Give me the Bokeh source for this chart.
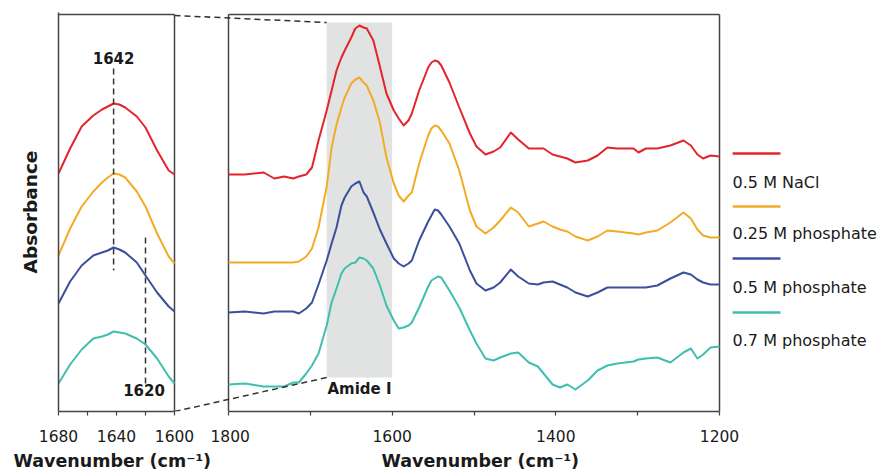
from bokeh.plotting import figure
from bokeh.models import (Range1d, FixedTicker, LinearAxis, BoxAnnotation, Label, Title)
from bokeh.core.properties import value
from bokeh.layouts import row
from bokeh.embed import file_html
from bokeh.resources import INLINE

# ---------------- data ----------------
series_names = ["0.5 M NaCl", "0.25 M phosphate", "0.5 M phosphate", "0.7 M phosphate"]
colors = ["#e4242b", "#f3ab26", "#3b4f9e", "#3fbfaf"]

# full spectra (right panel), stacked absorbance (a.u.)
wn_full = [1800, 1780, 1757, 1744, 1732, 1721, 1714, 1705, 1698, 1690,
           1680, 1674, 1668, 1662, 1658, 1650, 1645, 1640, 1635, 1631,
           1623, 1615, 1607, 1598, 1592, 1586, 1580, 1576, 1567, 1556,
           1552, 1548, 1544, 1540, 1530, 1518, 1505, 1497, 1486, 1476,
           1468, 1455, 1446, 1433, 1422, 1415, 1404, 1395, 1386, 1376,
           1361, 1349, 1337, 1325, 1305, 1299, 1290, 1276, 1260, 1244,
           1235, 1227, 1220, 1211, 1200]
nacl_full = [2.37, 2.37, 2.39, 2.33, 2.35, 2.33, 2.35, 2.37, 2.44, 2.71,
             3.01, 3.21, 3.41, 3.54, 3.61, 3.74, 3.83, 3.86, 3.84, 3.83,
             3.71, 3.45, 3.18, 3.01, 2.93, 2.86, 2.91, 2.98, 3.21, 3.44,
             3.49, 3.51, 3.50, 3.46, 3.29, 3.04, 2.78, 2.65, 2.57, 2.60,
             2.64, 2.79, 2.72, 2.63, 2.63, 2.63, 2.57, 2.55, 2.53, 2.49,
             2.51, 2.56, 2.64, 2.63, 2.63, 2.59, 2.63, 2.63, 2.66, 2.71,
             2.66, 2.57, 2.53, 2.56, 2.55]
p025_full = [1.49, 1.49, 1.49, 1.49, 1.49, 1.49, 1.50, 1.55, 1.63, 1.84,
             2.25, 2.64, 2.87, 3.04, 3.14, 3.28, 3.32, 3.34, 3.29, 3.26,
             3.11, 2.89, 2.54, 2.28, 2.16, 2.10, 2.16, 2.19, 2.48, 2.76,
             2.83, 2.86, 2.85, 2.81, 2.68, 2.41, 2.01, 1.85, 1.78, 1.84,
             1.91, 2.04, 1.99, 1.85, 1.88, 1.90, 1.85, 1.82, 1.80, 1.75,
             1.71, 1.75, 1.81, 1.80, 1.78, 1.77, 1.79, 1.81, 1.89, 1.99,
             1.93, 1.82, 1.76, 1.74, 1.74]
p050_full = [0.99, 1.00, 0.98, 1.00, 1.00, 1.00, 0.98, 1.03, 1.09, 1.27,
             1.51, 1.68, 1.84, 2.06, 2.14, 2.25, 2.28, 2.30, 2.19, 2.15,
             1.99, 1.82, 1.68, 1.53, 1.48, 1.45, 1.48, 1.51, 1.71, 1.90,
             1.96, 2.02, 2.01, 1.97, 1.85, 1.68, 1.41, 1.28, 1.21, 1.24,
             1.29, 1.42, 1.35, 1.28, 1.27, 1.29, 1.30, 1.27, 1.24, 1.19,
             1.15, 1.19, 1.24, 1.24, 1.24, 1.24, 1.24, 1.26, 1.33, 1.39,
             1.37, 1.32, 1.29, 1.27, 1.27]
p070_full = [0.27, 0.28, 0.25, 0.25, 0.25, 0.29, 0.29, 0.38, 0.46, 0.58,
             0.86, 1.09, 1.23, 1.38, 1.43, 1.48, 1.49, 1.54, 1.53, 1.51,
             1.43, 1.26, 1.06, 0.91, 0.83, 0.84, 0.86, 0.89, 1.04, 1.25,
             1.31, 1.33, 1.35, 1.34, 1.21, 1.04, 0.81, 0.68, 0.53, 0.51,
             0.54, 0.58, 0.59, 0.49, 0.45, 0.38, 0.27, 0.24, 0.27, 0.22,
             0.31, 0.41, 0.46, 0.48, 0.50, 0.52, 0.53, 0.54, 0.49, 0.59,
             0.63, 0.53, 0.57, 0.64, 0.65]

# amide I region (left panel)
wn_amide = [1680, 1672, 1664, 1656, 1650, 1646, 1642, 1638, 1634, 1626, 1620, 1612, 1604, 1600]
nacl_amide = [2.38, 2.63, 2.85, 2.96, 3.02, 3.05, 3.08, 3.07, 3.04, 2.95, 2.84, 2.61, 2.41, 2.37]
p025_amide = [1.56, 1.83, 2.05, 2.20, 2.29, 2.34, 2.38, 2.37, 2.34, 2.20, 2.05, 1.78, 1.55, 1.48]
p050_amide = [1.08, 1.30, 1.46, 1.56, 1.59, 1.61, 1.64, 1.62, 1.59, 1.49, 1.36, 1.19, 1.05, 1.00]
p070_amide = [0.28, 0.47, 0.62, 0.73, 0.75, 0.77, 0.80, 0.79, 0.78, 0.73, 0.67, 0.53, 0.35, 0.28]

full_series = [nacl_full, p025_full, p050_full, p070_full]
amide_series = [nacl_amide, p025_amide, p050_amide, p070_amide]

peak_main = 1642
peak_shoulder = 1620
amide_band = (1680, 1600)

left_ticks = [1680, 1640, 1600]
left_minor = [1660, 1620]
right_ticks = [1800, 1600, 1400, 1200]
right_minor = [1700, 1500, 1300]

# ---------------- style / geometry ----------------
FONT = "DejaVu Sans"
FRAME = "#444444"
DASH = "#333333"
TXT = "#1a1a1a"
H = 475
TOP, BOTTOM = 12, 64
Y0, Y1 = 0.0, 3.99      # visible y span of both frames
BOX_TOP = 3.97          # top edge of the drawn panel boxes
XLAB = "Wavenumber (cm\u207b\u00b9)"


def style_xaxis(ax, ticks, minor, bounds):
    ax.ticker = FixedTicker(ticks=ticks, minor_ticks=minor)
    ax.bounds = bounds
    ax.axis_line_color = FRAME
    ax.axis_line_width = 1.5
    ax.major_tick_line_color = FRAME
    ax.minor_tick_line_color = FRAME
    ax.major_tick_line_width = 1.2
    ax.minor_tick_line_width = 1.2
    ax.major_tick_out = 4
    ax.major_tick_in = 0
    ax.minor_tick_out = 4
    ax.minor_tick_in = 0
    ax.major_label_text_font = FONT
    ax.major_label_text_font_size = "15.5px"
    ax.major_label_text_color = TXT
    ax.major_label_standoff = 14


def xtitle(offset):
    return Title(text=XLAB, align="left", offset=offset, text_font=FONT,
                 text_font_style="bold", text_font_size="17.5px", text_color=TXT,
                 standoff=8)


def draw_lines(p, xs, series):
    for ys, c in zip(series, colors):
        p.line(xs, ys, line_color=c, line_width=2, line_join="round")


# ---------------- left panel ----------------
# frame spans x = 58..210 px; 1680 -> 58 px, 1600 -> 174 px
left = figure(width=210, height=H, output_backend="svg", toolbar_location=None,
              x_range=Range1d(1680, 1575.17), y_range=Range1d(Y0, Y1),
              min_border_left=58, min_border_right=0, min_border_top=TOP,
              min_border_bottom=BOTTOM, x_axis_location=None, y_axis_location=None)
left.grid.visible = False
left.outline_line_color = None
lx = LinearAxis()
style_xaxis(lx, left_ticks, left_minor, (1600, 1680))
left.add_layout(lx, "below")
left.add_layout(xtitle(-45), "below")
ly = LinearAxis(ticker=FixedTicker(ticks=[]))
ly.axis_line_color = FRAME
ly.axis_line_width = 1.5
ly.major_tick_out = 0
ly.major_tick_in = 0
ly.minor_tick_out = 0
ly.minor_tick_in = 0
ly.major_label_text_font_size = "0px"
ly.axis_label = "Absorbance"
ly.axis_label_text_font = FONT
ly.axis_label_text_font_style = "bold"
ly.axis_label_text_font_size = "18.5px"
ly.axis_label_text_color = TXT
ly.axis_label_standoff = 18
left.add_layout(ly, "left")

# box: top and right edges
left.segment(x0=[amide_band[0], amide_band[1]], y0=[BOX_TOP, Y0],
             x1=[amide_band[1], amide_band[1]], y1=[BOX_TOP, BOX_TOP],
             line_color=FRAME, line_width=1.5)

draw_lines(left, wn_amide, amide_series)

left.segment(x0=[peak_main], y0=[3.43], x1=[peak_main], y1=[1.41],
             line_color=DASH, line_width=1.5, line_dash="6 4")
left.segment(x0=[peak_shoulder], y0=[1.74], x1=[peak_shoulder], y1=[0.28],
             line_color=DASH, line_width=1.5, line_dash="6 4")
left.add_layout(Label(x=peak_main, y=3.535, text=str(peak_main), text_align="center",
                      text_baseline="middle", text_font=FONT, text_font_style="bold",
                      text_font_size="15px", text_color=TXT))
left.add_layout(Label(x=1621, y=0.22, text=str(peak_shoulder), text_align="center",
                      text_baseline="middle", text_font=FONT, text_font_style="bold",
                      text_font_size="15px", text_color=TXT))
# zoom connectors (left part; continue into the right panel)
left.segment(x0=[1600, 1600], y0=[3.96, Y0], x1=[1494.5, 1494.5], y1=[3.89, 0.34],
             line_color=DASH, line_width=1.5, line_dash="6 4")

# ---------------- right panel ----------------
# frame spans x = 210..883 px; 1800 -> 228 px, 1200 -> 719 px
right = figure(width=673, height=H, output_backend="svg", toolbar_location=None,
               x_range=Range1d(1822.0, 999.6), y_range=Range1d(Y0, Y1),
               min_border_left=0, min_border_right=0, min_border_top=TOP,
               min_border_bottom=BOTTOM, x_axis_location=None, y_axis_location=None)
right.grid.visible = False
right.outline_line_color = None
rx = LinearAxis()
style_xaxis(rx, right_ticks, right_minor, (1200, 1800))
right.add_layout(rx, "below")
right.add_layout(xtitle(171), "below")

right.add_layout(BoxAnnotation(left=amide_band[0], right=amide_band[1], bottom=0.34, top=3.89,
                               fill_color="#e1e2e2", fill_alpha=1.0, line_color=None,
                               level="underlay"))
# box: left, right and top edges
right.segment(x0=[1800, 1200, 1800], y0=[Y0, Y0, BOX_TOP],
              x1=[1800, 1200, 1200], y1=[BOX_TOP, BOX_TOP, BOX_TOP],
              line_color=FRAME, line_width=1.5)

draw_lines(right, wn_full, full_series)

right.add_layout(Label(x=1640, y=0.225, text="Amide I", text_align="center",
                       text_baseline="middle", text_font=FONT, text_font_style="bold",
                       text_font_size="15px", text_color=TXT))
# zoom connectors (right part)
right.segment(x0=[1866, 1866], y0=[3.96, Y0], x1=[amide_band[0], amide_band[0]],
              y1=[3.89, 0.34], line_color=DASH, line_width=1.5, line_dash="6 4")

# legend (line sample above its label)
leg_line_y = [2.58, 2.05, 1.53, 0.99]
leg_text_y = [2.29, 1.78, 1.24, 0.71]
LEG_X0, LEG_X1 = 1184, 1125.5
right.segment(x0=[LEG_X0] * 4, y0=leg_line_y, x1=[LEG_X1] * 4, y1=leg_line_y,
              line_color=colors, line_width=2.5)
right.text(x=[LEG_X0] * 4, y=leg_text_y, text=series_names, text_align="left",
           text_baseline="middle", text_font=value(FONT), text_font_size="16px",
           text_color=TXT)

layout = row(left, right)
open("out.html", "w").write(file_html(layout, INLINE))
